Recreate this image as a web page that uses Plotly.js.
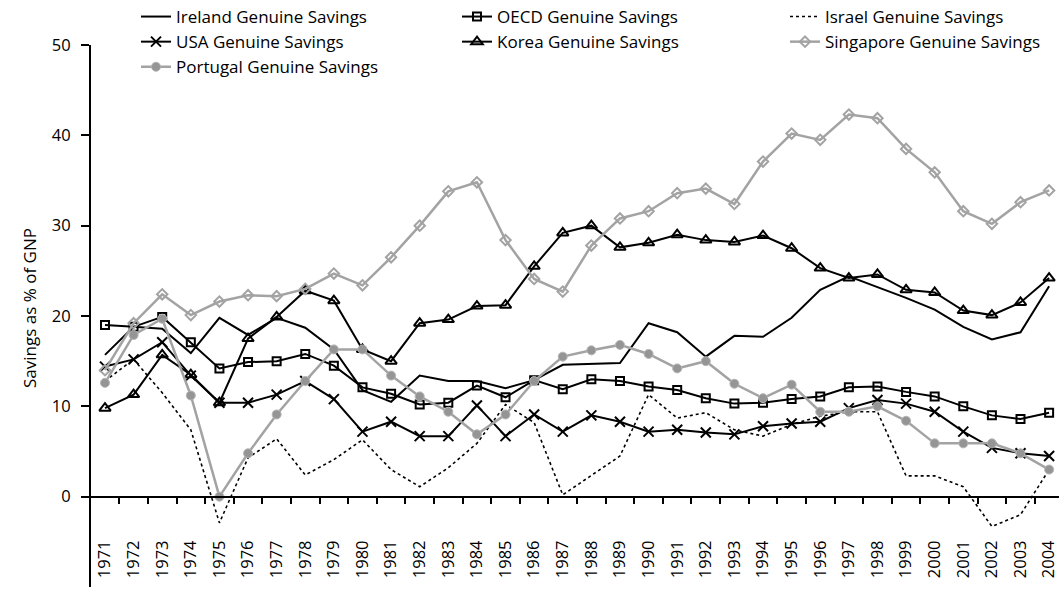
<!DOCTYPE html>
<html>
<head>
<meta charset="utf-8">
<script src="https://cdn.plot.ly/plotly-3.0.1.min.js"></script>
<style>
html,body{margin:0;padding:0;background:#fff;overflow:hidden;}
#chart{width:1070px;height:595px;}
</style>
</head>
<body>
<div id="chart"></div>
<script>
const years = ['1971','1972','1973','1974','1975','1976','1977','1978','1979','1980','1981','1982','1983','1984','1985','1986','1987','1988','1989','1990','1991','1992','1993','1994','1995','1996','1997','1998','1999','2000','2001','2002','2003','2004'];

const ireland   = [15.7,18.8,18.6,15.9,19.8,17.9,19.8,18.7,16.3,11.8,10.5,13.4,12.8,12.8,12.0,12.9,14.6,14.7,14.8,19.2,18.2,15.5,17.8,17.7,19.8,22.9,24.4,23.2,22.0,20.7,18.8,17.4,18.2,23.3];
const oecd      = [19.0,18.8,19.9,17.1,14.2,14.9,15.0,15.8,14.5,12.1,11.4,10.2,10.4,12.3,11.0,12.9,11.9,13.0,12.8,12.2,11.8,10.9,10.3,10.4,10.8,11.1,12.1,12.2,11.6,11.1,10.0,9.0,8.6,9.3];
const israel    = [12.8,15.2,11.5,7.4,-2.9,4.3,6.4,2.4,4.1,6.3,3.0,1.1,3.2,5.9,10.2,8.2,0.2,2.4,4.5,11.3,8.7,9.3,7.4,6.7,8.0,8.9,9.4,9.4,2.3,2.3,1.1,-3.3,-2.0,3.0];
const usa       = [14.4,15.2,17.1,13.4,10.4,10.4,11.3,12.8,10.8,7.2,8.3,6.7,6.7,10.1,6.7,9.1,7.2,9.0,8.3,7.2,7.4,7.1,6.9,7.8,8.1,8.3,9.8,10.7,10.3,9.4,7.2,5.4,4.8,4.5];
const korea     = [9.8,11.3,15.7,13.5,10.4,17.5,19.9,22.8,21.7,16.3,15.0,19.2,19.6,21.1,21.2,25.5,29.2,30.0,27.6,28.1,29.0,28.4,28.2,28.9,27.5,25.3,24.2,24.6,22.9,22.6,20.6,20.1,21.5,24.2];
const singapore = [14.0,19.2,22.4,20.1,21.6,22.3,22.2,23.0,24.7,23.4,26.5,30.0,33.8,34.8,28.4,24.1,22.7,27.8,30.8,31.6,33.6,34.1,32.4,37.1,40.2,39.5,42.3,41.9,38.5,35.9,31.6,30.2,32.6,33.9];
const portugal  = [12.6,17.9,19.7,11.2,0.0,4.8,9.1,12.8,16.3,16.3,13.4,11.1,9.4,6.9,9.1,12.8,15.5,16.2,16.8,15.8,14.2,15.0,12.5,10.9,12.4,9.4,9.4,10.0,8.4,5.9,5.9,5.9,4.8,3.0];

const names = ['Ireland Genuine Savings','OECD Genuine Savings','Israel Genuine Savings','USA Genuine Savings','Korea Genuine Savings','Singapore Genuine Savings','Portugal Genuine Savings'];
const yTitle = 'Savings as % of GNP';

const BLACK = '#000000';
const GRAY = '#a3a3a3';
const FONT = '"Open Sans", "Noto Sans", sans-serif';

const W = 1070, H = 595, ML = 91, MT = 45, MB = 8;
const plotW = W - ML, plotH = H - MT - MB;
const px2x = p => (p - ML) / plotW;           // page px -> paper x
const px2y = p => (H - MB - p) / plotH;       // page px -> paper y

const traces = [
  {name: names[0], y: ireland, legend: 'legend', mode: 'lines', line: {color: BLACK, width: 2}},
  {name: names[1], y: oecd, legend: 'legend2', mode: 'lines+markers', line: {color: BLACK, width: 2},
   marker: {symbol: 'square-open', size: 8, color: BLACK, line: {width: 2, color: BLACK}}},
  {name: names[2], y: israel, legend: 'legend3', mode: 'lines', line: {color: BLACK, width: 1.6, dash: 'dot'}},
  {name: names[3], y: usa, legend: 'legend', mode: 'lines+markers', line: {color: BLACK, width: 2},
   marker: {symbol: 'x-thin-open', size: 10, color: BLACK, line: {width: 2, color: BLACK}}},
  {name: names[4], y: korea, legend: 'legend2', mode: 'lines+markers', line: {color: BLACK, width: 2},
   marker: {symbol: 'triangle-up-open', size: 10, color: BLACK, line: {width: 2, color: BLACK}}},
  {name: names[5], y: singapore, legend: 'legend3', mode: 'lines+markers', line: {color: GRAY, width: 2.5},
   marker: {symbol: 'diamond-open', size: 8, color: GRAY, line: {width: 2, color: GRAY}}},
  {name: names[6], y: portugal, legend: 'legend', mode: 'lines+markers', line: {color: GRAY, width: 2.5},
   marker: {symbol: 'circle', size: 9, color: '#959595', line: {width: 1, color: '#b5b5b5'}}}
].map(t => Object.assign({x: years, type: 'scatter', cliponaxis: false}, t));

// helper axis at y = 0 carrying the category-boundary ticks
const boundaryTicks = years.map((_, i) => i - 0.5).concat([years.length - 0.5]);
traces.push({x: [], y: [], xaxis: 'x2', yaxis: 'y', type: 'scatter', mode: 'lines', showlegend: false, hoverinfo: 'skip'});

const xRange = [-0.489, 33.73];

function legendAt(textPx) {
  return {
    orientation: 'v', xref: 'paper', yref: 'paper',
    x: px2x(textPx - 40), y: px2y(-1), xanchor: 'left', yanchor: 'top',
    font: {family: FONT, size: 17, color: '#000'},
    bgcolor: 'rgba(0,0,0,0)', borderwidth: 0, tracegroupgap: 0, itemclick: false
  };
}

const layout = {
  width: W, height: H,
  margin: {l: ML, r: 0, t: MT, b: MB, autoexpand: false},
  paper_bgcolor: '#fff', plot_bgcolor: '#fff',
  font: {family: FONT, size: 16, color: '#000'},
  showlegend: true,
  legend: legendAt(176),
  legend2: legendAt(497),
  legend3: legendAt(825),
  xaxis: {
    type: 'category', range: xRange, showgrid: false, zeroline: false,
    showline: false, ticks: '', tickangle: -90,
    ticklabelposition: 'inside', tickfont: {family: FONT, size: 16.5, color: '#000'}
  },
  xaxis2: {
    overlaying: 'x', anchor: 'free', position: 1/6, side: 'bottom',
    range: xRange, showgrid: false, zeroline: false,
    showline: true, linecolor: '#000', linewidth: 2,
    ticks: 'outside', ticklen: 6, tickwidth: 2, tickcolor: '#000',
    tickmode: 'array', tickvals: boundaryTicks, showticklabels: false
  },
  yaxis: {
    range: [-10, 50], tickmode: 'linear', tick0: 0, dtick: 10,
    showgrid: false, zeroline: false,
    showline: true, linecolor: '#000', linewidth: 2,
    ticks: 'outside', ticklen: 8, tickwidth: 2, tickcolor: '#000',
    ticklabelstandoff: 7,
    tickfont: {family: FONT, size: 16.5, color: '#000'}
  },
  annotations: [{
    text: yTitle, textangle: -90, showarrow: false,
    xref: 'paper', yref: 'paper', x: px2x(29), y: px2y(308),
    xanchor: 'center', yanchor: 'middle',
    font: {family: FONT, size: 17, color: '#000'}
  }]
};

Plotly.newPlot('chart', traces, layout, {staticPlot: true, displayModeBar: false});
</script>
</body>
</html>
